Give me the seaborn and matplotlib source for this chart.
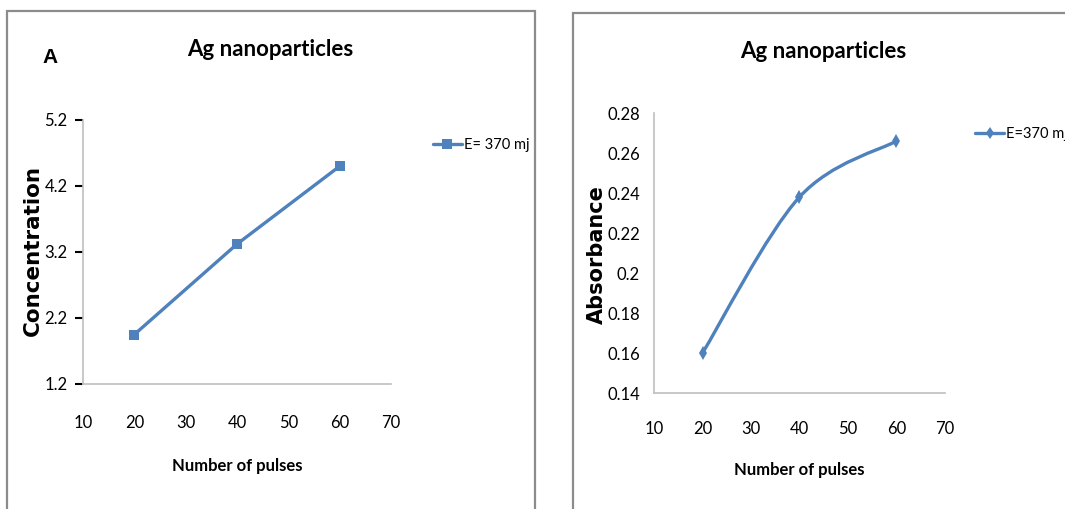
import numpy as np
import matplotlib
matplotlib.use("Agg")
import matplotlib.pyplot as plt
from matplotlib.path import Path
from matplotlib.patches import PathPatch, Rectangle
from matplotlib.lines import Line2D
import seaborn as sns
import pandas as pd

# data
pulses = [20, 40, 60]
concentration = [1.95, 3.32, 4.5]
absorbance = [0.16, 0.238, 0.266]

xticks = [10, 20, 30, 40, 50, 60, 70]
conc_ticks = [1.2, 2.2, 3.2, 4.2, 5.2]
abs_ticks = [0.14, 0.16, 0.18, 0.2, 0.22, 0.24, 0.26, 0.28]
abs_ticklabels = ["0.14", "0.16", "0.18", "0.2", "0.22", "0.24", "0.26", "0.28"]

title = "Ag nanoparticles"
series_left = "E= 370 mj"
series_right = "E=370 mj"

sns.set_style("white")
plt.rcParams["font.family"] = ["Lato", "DejaVu Sans"]
for k in ["text.color", "axes.labelcolor", "xtick.color", "ytick.color"]:
    plt.rcParams[k] = "black"

blue = "#4F81BD"
grid_grey = "#BFBFBF"

fig = plt.figure(figsize=(10.65, 5.09), dpi=100)
W, H = 1065, 509

def px_axes(x0, y0, x1, y1):
    return fig.add_axes([x0 / W, 1 - y1 / H, (x1 - x0) / W, (y1 - y0) / H])

# panel frames
fig.add_artist(Rectangle((7 / W, -0.1), (535 - 7) / W, 1.1 - 11 / H, transform=fig.transFigure,
                         fill=False, edgecolor="#8C8C8C", lw=1.6))
fig.add_artist(Rectangle((573 / W, -0.1), 0.6, 1.1 - 13 / H, transform=fig.transFigure,
                         fill=False, edgecolor="#8C8C8C", lw=1.6))

# ---------- left panel ----------
ax1 = px_axes(83, 120, 391, 384)
df1 = pd.DataFrame({"pulses": pulses, "conc": concentration})
sns.lineplot(data=df1, x="pulses", y="conc", ax=ax1, color=blue, lw=2.4,
             marker="s", markersize=7, markeredgewidth=0, legend=False)
ax1.set_xlim(10, 70)
ax1.set_ylim(1.2, 5.2)
ax1.set_xticks(xticks)
ax1.set_yticks(conc_ticks)
ax1.set_yticklabels([f"{v:.1f}" for v in conc_ticks])
ax1.tick_params(axis="y", length=6, width=1.5, color="black", pad=5, labelsize=12, left=True)
ax1.tick_params(axis="x", length=0, pad=22, labelsize=12)
for s in ["top", "right"]:
    ax1.spines[s].set_visible(False)
for s in ["left", "bottom"]:
    ax1.spines[s].set_color(grid_grey)
    ax1.spines[s].set_linewidth(1.2)
ax1.set_xlabel("Number of pulses", fontsize=12, fontweight="bold")
ax1.xaxis.set_label_coords(0.5, -0.28)
ax1.set_ylabel("Concentration", fontsize=15.5, fontweight="bold", family="DejaVu Sans", va="center")
ax1.yaxis.set_label_coords(-0.162, 0.504)
ax1.set_title(title, fontsize=16, fontweight="bold", x=0.607, y=1.235, va="center")
h1 = Line2D([], [], color=blue, lw=2.4, marker="s", markersize=7, markeredgewidth=0)
ax1.legend([h1], [series_left], loc="center left", bbox_to_anchor=(1.136, 0.905),
           frameon=False, handlelength=2.0, handletextpad=0.15, borderpad=0,
           borderaxespad=0, fontsize=10.5)
fig.text(50 / W, 1 - 58 / H, "A", fontsize=15, fontweight="bold",
         family="Liberation Sans", ha="center", va="center")

# ---------- right panel ----------
ax2 = px_axes(654, 113, 945, 393)
df2 = pd.DataFrame({"pulses": pulses, "abs": absorbance})
sns.lineplot(data=df2, x="pulses", y="abs", ax=ax2, color=blue, linestyle="",
             marker="d", markersize=7, markeredgewidth=0, legend=False)
# smoothed connector (Excel style bezier through the data points)
pts = np.column_stack([pulses, absorbance]).astype(float)
verts = [pts[0]]
codes = [Path.MOVETO]
n = len(pts)
for i in range(n - 1):
    p0 = pts[max(i - 1, 0)]
    p1 = pts[i]
    p2 = pts[i + 1]
    p3 = pts[min(i + 2, n - 1)]
    verts += [p1 + (p2 - p0) / 6, p2 - (p3 - p1) / 6, p2]
    codes += [Path.CURVE4] * 3
ax2.add_patch(PathPatch(Path(verts, codes), fill=False, edgecolor=blue, lw=2.4,
                        capstyle="round", joinstyle="round"))
ax2.set_xlim(10, 70)
ax2.set_ylim(0.14, 0.28)
ax2.set_xticks(xticks)
ax2.set_yticks(abs_ticks)
ax2.set_yticklabels(abs_ticklabels)
ax2.tick_params(axis="y", length=0, pad=10, labelsize=12)
ax2.tick_params(axis="x", length=0, pad=20, labelsize=12)
for s in ["top", "right"]:
    ax2.spines[s].set_visible(False)
for s in ["left", "bottom"]:
    ax2.spines[s].set_color(grid_grey)
    ax2.spines[s].set_linewidth(1.2)
ax2.set_xlabel("Number of pulses", fontsize=12, fontweight="bold")
ax2.xaxis.set_label_coords(0.498, -0.246)
ax2.set_ylabel("Absorbance", fontsize=15, fontweight="bold", family="DejaVu Sans", va="center")
ax2.yaxis.set_label_coords(-0.195, 0.495)
ax2.set_title(title, fontsize=16, fontweight="bold", x=0.582, y=1.189, va="center")
h2 = Line2D([], [], color=blue, lw=2.4, marker="d", markersize=6, markeredgewidth=0)
ax2.legend([h2], [series_right], loc="center left", bbox_to_anchor=(1.103, 0.925),
           frameon=False, handlelength=2.0, handletextpad=0.15, borderpad=0,
           borderaxespad=0, fontsize=10.5)

fig.savefig("out.png", dpi=100)
